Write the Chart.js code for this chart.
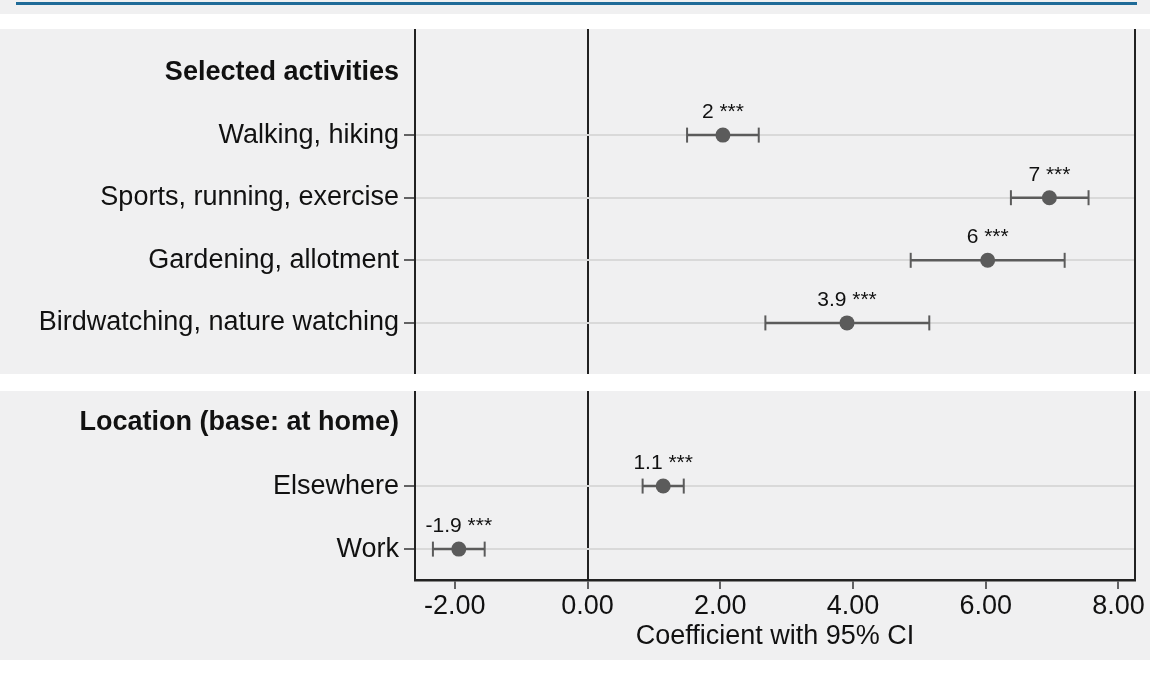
<!DOCTYPE html>
<html>
<head>
<meta charset="utf-8">
<script src="https://cdn.jsdelivr.net/npm/chart.js@4.4.1/dist/chart.umd.min.js"></script>
<style>
  body { margin: 0; background: #fff; }
  #page { position: relative; width: 1150px; height: 679px; overflow: hidden; }
  .band { position: absolute; left: 0; width: 1150px; background: #f0f0f1; }
  #rule { position: absolute; left: 16px; top: 2px; width: 1121px; height: 3px; background: #1f6b98; }
  canvas { position: absolute; left: 0; top: 0; }
</style>
</head>
<body>
<div id="page">
  <div class="band" style="top:0;height:14px"><div id="rule"></div></div>
  <div class="band" style="top:29px;height:345px"><canvas id="topChart" width="1150" height="345"></canvas></div>
  <div class="band" style="top:391px;height:269px"><canvas id="bottomChart" width="1150" height="269"></canvas></div>
</div>
<script>
// x axis
const xTicks = [-2, 0, 2, 4, 6, 8];

// panel 1: selected activities
const activityHeader = "Selected activities";
const activityLabels = ["Walking, hiking", "Sports, running, exercise", "Gardening, allotment", "Birdwatching, nature watching"];
const activityCoef = [2.04, 6.96, 6.03, 3.91];
const activityLow = [1.50, 6.38, 4.87, 2.68];
const activityHigh = [2.58, 7.55, 7.19, 5.15];
const activityText = ["2 ***", "7 ***", "6 ***", "3.9 ***"];

// panel 2: location
const locationHeader = "Location (base: at home)";
const locationLabels = ["Elsewhere", "Work"];
const locationCoef = [1.14, -1.94];
const locationLow = [0.83, -2.33];
const locationHigh = [1.45, -1.55];
const locationText = ["1.1 ***", "-1.9 ***"];

const FONT = '"Liberation Sans", Arial, Helvetica, sans-serif';
const MARK = "#5b5b5b";
const CLEAR = "rgba(0,0,0,0)";

// coefficient text above each point
const coefLabelPlugin = {
  id: "coefLabels",
  afterDatasetsDraw(chart, args, opts) {
    const meta = chart.getDatasetMeta(0);
    const ctx = chart.ctx;
    ctx.save();
    ctx.font = "21px " + FONT;
    ctx.fillStyle = "#111";
    ctx.textAlign = "center";
    ctx.textBaseline = "alphabetic";
    meta.data.forEach((pt, i) => ctx.fillText(opts.texts[i], pt.x, pt.y - 17));
    ctx.restore();
  }
};

function noPad(s) {
  s.paddingTop = 0; s.paddingBottom = 0; s.paddingLeft = 0; s.paddingRight = 0;
}

function buildPanel(canvasId, header, labels, coef, low, high, texts, yMin, yMax, withAxis) {
  const tickLabels = [header].concat(labels);
  const rows = tickLabels.map((_, i) => i);

  const ciSets = labels.map((_, i) => ({
    type: "line",
    data: [{ x: low[i], y: i + 1 }, { x: high[i], y: i + 1 }],
    borderColor: MARK,
    borderWidth: 2.5,
    pointStyle: "line",
    rotation: 90,
    pointRadius: 7.5,
    pointHoverRadius: 7.5,
    pointBorderColor: MARK,
    pointBorderWidth: 2,
    pointBackgroundColor: MARK
  }));

  return new Chart(document.getElementById(canvasId), {
    type: "scatter",
    data: {
      datasets: [{
        data: coef.map((c, i) => ({ x: c, y: i + 1 })),
        pointRadius: 7.5,
        pointHoverRadius: 7.5,
        backgroundColor: MARK,
        borderWidth: 0
      }].concat(ciSets)
    },
    options: {
      responsive: false,
      animation: false,
      events: [],
      layout: { autoPadding: false, padding: { left: 0, right: 15, top: 0, bottom: 0 } },
      plugins: {
        legend: { display: false },
        tooltip: { enabled: false },
        coefLabels: { texts: texts }
      },
      scales: {
        x: {
          type: "linear",
          min: -2.6,
          max: 8.25,
          afterBuildTicks: s => { s.ticks = xTicks.map(v => ({ value: v })); },
          afterFit: s => { noPad(s); s.height = withAxis ? 80 : 0; },
          grid: {
            color: c => (c.tick && c.tick.value === 0) ? "#222" : CLEAR,
            lineWidth: 2,
            drawTicks: withAxis,
            tickLength: 9,
            tickColor: "#333",
            tickWidth: 1.5
          },
          border: { display: withAxis, color: "#222", width: 2.5 },
          ticks: {
            display: withAxis,
            padding: 1,
            color: "#111",
            autoSkip: false,
            maxRotation: 0,
            font: { family: FONT, size: 27 },
            callback: v => v.toFixed(2)
          },
          title: {
            display: withAxis,
            text: "Coefficient with 95% CI",
            color: "#111",
            font: { family: FONT, size: 27 },
            padding: { top: 0, bottom: 7 }
          }
        },
        y: {
          type: "linear",
          reverse: true,
          min: yMin,
          max: yMax,
          afterBuildTicks: s => { s.ticks = rows.map(v => ({ value: v })); },
          afterFit: s => { noPad(s); s.width = 415; },
          grid: {
            color: c => c.index === 0 ? CLEAR : "#d9d9d9",
            lineWidth: 2,
            tickLength: 11,
            tickColor: c => c.index === 0 ? CLEAR : "#333",
            tickWidth: 1.5
          },
          border: { color: "#222", width: 2 },
          ticks: {
            padding: 5,
            color: "#111",
            autoSkip: false,
            font: c => ({ family: FONT, size: 27, weight: c.index === 0 ? "bold" : "normal" }),
            callback: (v, i) => tickLabels[i]
          }
        },
        y2: {
          type: "linear",
          position: "right",
          display: true,
          afterFit: s => { noPad(s); s.width = 0; },
          grid: { display: false, drawTicks: false },
          ticks: { display: false },
          border: { display: true, color: "#222", width: 2 }
        }
      }
    },
    plugins: [coefLabelPlugin]
  });
}

buildPanel("topChart", activityHeader, activityLabels, activityCoef, activityLow, activityHigh, activityText, -0.695, 4.816, false);
buildPanel("bottomChart", locationHeader, locationLabels, locationCoef, locationLow, locationHigh, locationText, -0.508, 2.49, true);
</script>
</body>
</html>
